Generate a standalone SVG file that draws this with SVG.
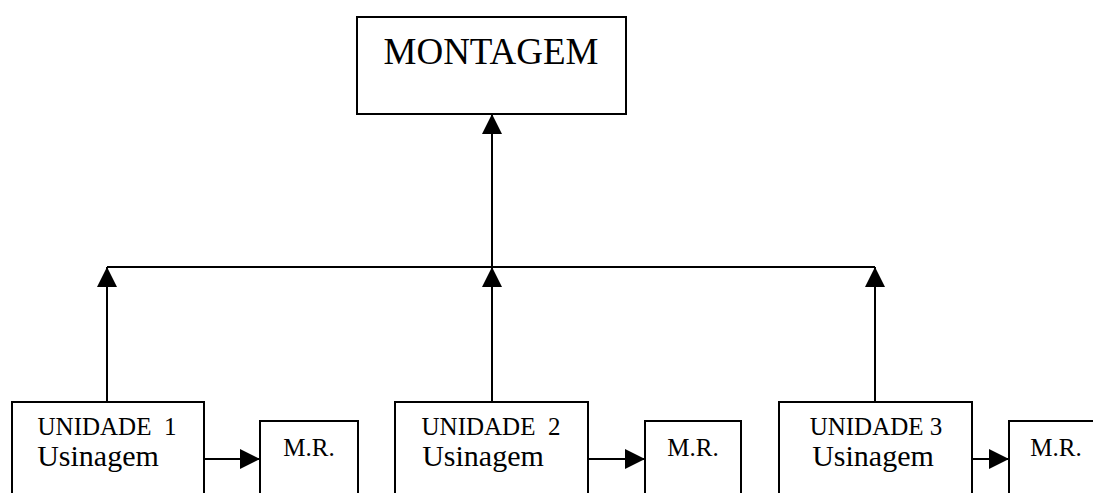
<svg xmlns="http://www.w3.org/2000/svg" width="1093" height="493" viewBox="0 0 1093 493">
  <style>
    .box { fill: #ffffff; stroke: #000000; stroke-width: 2; }
    .line { fill: none; stroke: #000000; stroke-width: 2; }
    text { font-family: "Liberation Serif", "Times New Roman", serif; fill: #000000; text-anchor: middle; }
    .title { font-size: 37px; }
    .unit { font-size: 25px; }
    .sub { font-size: 30px; }
    .mr { font-size: 25px; }
  </style>
  <defs>
    <marker id="arrow" viewBox="0 0 20 20" refX="20" refY="10" markerWidth="20" markerHeight="20" markerUnits="userSpaceOnUse" orient="auto">
      <path d="M0,0 L20,10 L0,20 z" fill="#000000"/>
    </marker>
  </defs>
  <rect width="1093" height="493" fill="#ffffff"/>

  <!-- connectors -->
  <g id="connectors">
    <line class="line" x1="107" y1="267" x2="875" y2="267"/>
    <line class="line" x1="107" y1="402" x2="107" y2="267" marker-end="url(#arrow)"/>
    <line class="line" x1="492" y1="402" x2="492" y2="267" marker-end="url(#arrow)"/>
    <line class="line" x1="875" y1="402" x2="875" y2="267" marker-end="url(#arrow)"/>
    <line class="line" x1="492" y1="267" x2="492" y2="114" marker-end="url(#arrow)"/>
    <line class="line" x1="204" y1="459" x2="260" y2="459" marker-end="url(#arrow)"/>
    <line class="line" x1="588" y1="459" x2="645" y2="459" marker-end="url(#arrow)"/>
    <line class="line" x1="972" y1="459" x2="1009" y2="459" marker-end="url(#arrow)"/>
  </g>

  <g id="montagem">
    <rect class="box" x="357" y="17" width="269" height="97"/>
    <text class="title" x="491" y="64">MONTAGEM</text>
  </g>

  <g id="unidade1">
    <rect class="box" x="12" y="402" width="192" height="110"/>
    <text class="unit" x="107" y="435" xml:space="preserve">UNIDADE  1</text>
    <text class="sub" x="98" y="466">Usinagem</text>
  </g>
  <g id="mr1">
    <rect class="box" x="260" y="421" width="98" height="90"/>
    <text class="mr" x="309" y="456">M.R.</text>
  </g>

  <g id="unidade2">
    <rect class="box" x="395" y="402" width="193" height="110"/>
    <text class="unit" x="491" y="435" xml:space="preserve">UNIDADE  2</text>
    <text class="sub" x="483" y="466">Usinagem</text>
  </g>
  <g id="mr2">
    <rect class="box" x="645" y="421" width="96" height="90"/>
    <text class="mr" x="693" y="456">M.R.</text>
  </g>

  <g id="unidade3">
    <rect class="box" x="779" y="402" width="193" height="110"/>
    <text class="unit" x="876" y="435">UNIDADE 3</text>
    <text class="sub" x="873" y="466">Usinagem</text>
  </g>
  <g id="mr3">
    <rect class="box" x="1009" y="421" width="100" height="90"/>
    <text class="mr" x="1056" y="456">M.R.</text>
  </g>
</svg>
